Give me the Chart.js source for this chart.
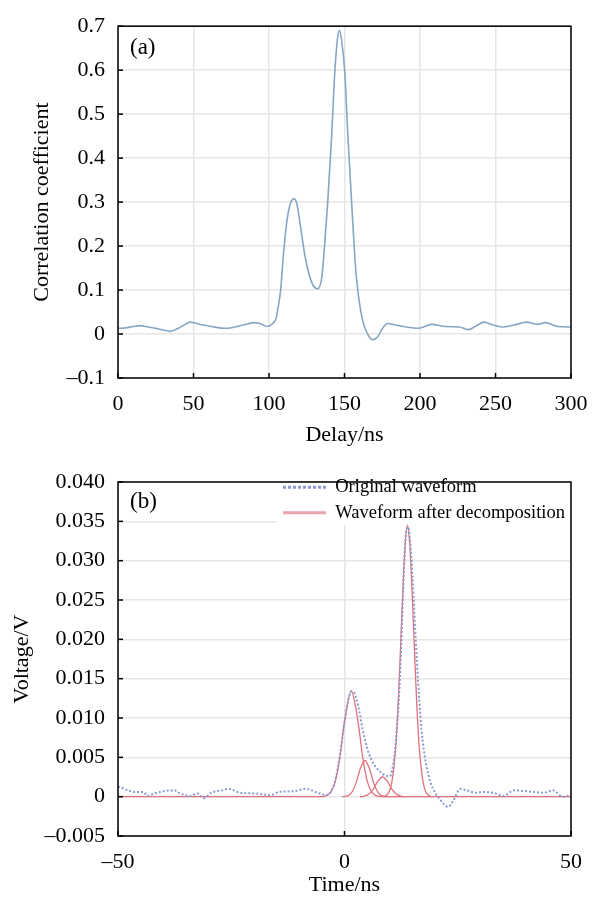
<!DOCTYPE html>
<html><head><meta charset="utf-8">
<script src="https://cdn.jsdelivr.net/npm/chart.js@4/dist/chart.umd.min.js"></script>
<style>
html,body{margin:0;padding:0;background:#fff;}
#w1{position:absolute;left:0;top:0;width:607px;height:450px;}
#w2{position:absolute;left:0;top:450px;width:607px;height:448px;}
</style></head><body>
<div id="w1"><canvas id="c1" width="607" height="450"></canvas></div>
<div id="w2"><canvas id="c2" width="607" height="448"></canvas></div>
<script>
// ---- Panel (a): correlation coefficient vs delay ----
const delayNs = [0,5,10,14.6,20,24.8,30,34.3,40,44,47.9,51,55.5,62,71,76,81,86,90,94,99,103,104.6,106,107.7,109.5,111.7,114,116.6,118.5,120.5,123.8,128.2,132.2,135,137,138.9,141.5,143.3,145.3,146.6,148,150.3,152.1,154.7,157.6,161.4,165,168.7,172,175,178.4,184.6,191,199,208,217,226,232,237,242.4,248,254,263,270.6,278,283,291,300];
const corrCoef = [0.013,0.014,0.017,0.019,0.016,0.013,0.009,0.006,0.013,0.021,0.027,0.025,0.021,0.017,0.013,0.015,0.019,0.023,0.026,0.024,0.017,0.026,0.035,0.06,0.10,0.178,0.253,0.295,0.308,0.295,0.253,0.178,0.118,0.103,0.13,0.21,0.30,0.45,0.58,0.67,0.69,0.67,0.59,0.46,0.30,0.14,0.04,0.002,-0.013,-0.006,0.012,0.024,0.02,0.016,0.013,0.022,0.017,0.016,0.010,0.018,0.027,0.021,0.016,0.021,0.027,0.022,0.026,0.017,0.016];
const delayTicks = [0,50,100,150,200,250,300];
const corrTicks = [-0.1,0,0.1,0.2,0.3,0.4,0.5,0.6,0.7];

// ---- Panel (b): original waveform and decomposition ----
const timeOrig = [-50,-49,-47.8,-46,-44.4,-43.5,-42,-40,-37.5,-36.3,-34,-32.4,-31.1,-29.4,-27,-25.6,-23,-19.6,-16.2,-14.5,-11.1,-8.5,-6,-4,-3,-2,-1,0,1,1.5,2,3,4,5,6,7,8,9,10,11,12,12.5,13,13.5,14,14.5,15,16,17,18,19,20,21,22.9,24,25.6,27,29,31,33.3,35,37.5,40,41.8,44,46,48.2,50];
const voltOrig = [0.0013,0.0011,0.0008,0.0006,0.0006,0.0001,0.0004,0.0007,0.0008,0.0004,0.0001,0.0004,-0.0002,0.0005,0.0008,0.001,0.0005,0.0004,0.0002,0.0006,0.0007,0.001,0.0005,0.0002,0.0006,0.0022,0.0053,0.0095,0.0127,0.0134,0.0133,0.0116,0.0086,0.0062,0.0046,0.0037,0.0031,0.0027,0.0026,0.0052,0.0125,0.019,0.027,0.033,0.0343,0.0325,0.028,0.017,0.0085,0.0042,0.0018,0.0005,-0.0003,-0.0013,-0.0005,0.001,0.0008,0.0005,0.0006,0.0004,0.0001,0.0008,0.0007,0.0006,0.0005,0.0008,0.0000,0.0002];
const timeComp1 = [-50,-5,-4,-3,-2,-1,0,1.5,3,4,5,6,7,8,50];
const voltComp1 = [0,0,0.00013,0.0006,0.002,0.0051,0.0095,0.0134,0.0095,0.0051,0.002,0.0006,0.00013,0,0];
const timeComp2 = [-0.5,0.5,1.5,2.5,3.5,4.5,5.5,6.5,7.5,8.5,9.5];
const voltComp2 = [0,0.00008,0.00046,0.00166,0.00357,0.0046,0.00357,0.00166,0.00046,0.00008,0];
const timeComp3 = [3.4,4.4,5.4,6.4,7.4,8.4,9.4,10.4,11.4,12.4,13.4];
const voltComp3 = [0,0.00007,0.00034,0.001,0.002,0.0025,0.002,0.001,0.00034,0.00007,0];
const timeComp4 = [8.4,8.9,9.4,9.9,10.4,10.9,11.4,11.9,12.4,12.9,13.4,13.9,14.4,14.9,15.4,15.9,16.4,16.9,17.4,17.9,18.4,18.9,19.4];
const voltComp4 = [0,0.00007,0.00025,0.0007,0.0017,0.0037,0.0071,0.0124,0.0193,0.0264,0.0321,0.0345,0.0321,0.0264,0.0193,0.0124,0.0071,0.0037,0.0017,0.0007,0.00025,0.00007,0];
const timeTicks = [-50,0,50];
const voltTicks = [-0.005,0,0.005,0.010,0.015,0.020,0.025,0.030,0.035,0.040];
const seriesNames = ['Original waveform','Waveform after decomposition'];

const FONT = '"Liberation Serif", "Times New Roman", serif';
const tickFont = {family: FONT, size: 22};
const titleFont = {family: FONT, size: 22};
const gridColor = '#e6e6e6';
const pts = (xs, ys) => xs.map((x, i) => ({x: x, y: ys[i]}));
const fmt = (v, d) => Math.abs(v) < 1e-12 ? '0' : (v < 0 ? '\u2013' : '') + Math.abs(v).toFixed(d);

const frame = {
  id: 'frame',
  beforeDatasetsDraw(chart, args, opts) {
    if (opts.legendBg && chart.legend) {
      const a = chart.chartArea, lg = chart.legend, ctx = chart.ctx;
      ctx.save();
      ctx.fillStyle = '#fff';
      ctx.fillRect(lg.left, a.top + 1, a.right - 1 - lg.left, opts.legendBg - a.top);
      ctx.restore();
      lg.draw();
    }
  },
  afterDatasetsDraw(chart, args, opts) {
    const {ctx, chartArea: a, scales} = chart;
    ctx.save();
    ctx.strokeStyle = '#000';
    ctx.lineWidth = 1.5;
    ctx.strokeRect(a.left, a.top, a.right - a.left, a.bottom - a.top);
    scales.x.ticks.forEach(t => {
      const x = scales.x.getPixelForValue(t.value);
      ctx.beginPath(); ctx.moveTo(x, a.bottom); ctx.lineTo(x, a.bottom - 5); ctx.stroke();
    });
    scales.y.ticks.forEach(t => {
      const y = scales.y.getPixelForValue(t.value);
      ctx.beginPath(); ctx.moveTo(a.left, y); ctx.lineTo(a.left + 5, y); ctx.stroke();
    });
    ctx.fillStyle = '#000';
    ctx.font = '23px ' + FONT;
    ctx.textAlign = 'left';
    ctx.textBaseline = 'middle';
    ctx.fillText(opts.label, a.left + 12, a.top + opts.labelDy);
    ctx.restore();
  },
  afterLayout(chart, args, opts) {
    if (opts.legendPos && chart.legend) {
      const lg = chart.legend, p = opts.legendPos;
      lg.left = p.left; lg.right = chart.chartArea.right; lg.width = lg.right - lg.left;
      lg.top = p.top; lg.bottom = p.top + 70; lg.height = 70;
    }
  }
};

function axis(opts) {
  return {
    type: 'linear', min: opts.min, max: opts.max,
    afterBuildTicks: s => { s.ticks = opts.ticks.map(v => ({value: v})); },
    afterFit: opts.fit,
    grid: {color: gridColor, lineWidth: 1.5, drawTicks: false},
    border: {display: false},
    ticks: {autoSkip: false, maxRotation: 0, padding: opts.pad, color: '#000', font: tickFont, callback: v => fmt(v, opts.dec)},
    title: {display: true, text: opts.title, color: '#000', font: titleFont, padding: opts.tpad}
  };
}

new Chart(document.getElementById('c1'), {
  type: 'line',
  data: {datasets: [{
    label: 'Correlation coefficient',
    data: pts(delayNs, corrCoef),
    borderColor: '#86a6c4', borderWidth: 1.6, pointRadius: 0,
    cubicInterpolationMode: 'monotone', fill: false
  }]},
  options: {
    responsive: false, animation: false, events: [],
    layout: {padding: {left: 0, right: 36, top: 20, bottom: 0}},
    plugins: {legend: {display: false}, tooltip: {enabled: false}, frame: {label: '(a)', labelDy: 22}},
    scales: {
      x: axis({min: 0, max: 300, ticks: delayTicks, dec: 0, pad: 13, title: 'Delay/ns', tpad: {top: 0, bottom: 2}, fit: s => { s.height = 72; }}),
      y: axis({min: -0.1, max: 0.7, ticks: corrTicks, dec: 1, pad: 13, title: 'Correlation coefficient', tpad: {top: 29, bottom: 0}, fit: s => { s.width = 118; }})
    }
  },
  plugins: [frame]
});

const redLine = '#e0727d';
const legendStroke = ['#8c9ad0', '#eba5ab'];
const legendDash = [[3, 2], []];
new Chart(document.getElementById('c2'), {
  type: 'line',
  data: {datasets: [
    {label: seriesNames[0], data: pts(timeOrig, voltOrig), borderColor: '#8c9ad0', borderWidth: 2, borderDash: [2, 2], pointRadius: 0, cubicInterpolationMode: 'monotone', fill: false},
    {label: seriesNames[1], data: pts(timeComp1, voltComp1), borderColor: redLine, borderWidth: 1.3, pointRadius: 0, cubicInterpolationMode: 'monotone', fill: false},
    {label: '', data: pts(timeComp2, voltComp2), borderColor: redLine, borderWidth: 1.3, pointRadius: 0, cubicInterpolationMode: 'monotone', fill: false},
    {label: '', data: pts(timeComp3, voltComp3), borderColor: redLine, borderWidth: 1.3, pointRadius: 0, cubicInterpolationMode: 'monotone', fill: false},
    {label: '', data: pts(timeComp4, voltComp4), borderColor: redLine, borderWidth: 1.3, pointRadius: 0, cubicInterpolationMode: 'monotone', fill: false}
  ]},
  options: {
    responsive: false, animation: false, events: [],
    layout: {padding: {left: 0, right: 36, top: 32, bottom: 0}},
    plugins: {
      tooltip: {enabled: false},
      frame: {label: '(b)', labelDy: 20, legendBg: 74, legendPos: {left: 276, top: 21}},
      legend: {
        position: 'chartArea', align: 'start',
        labels: {
          usePointStyle: true, pointStyle: 'line', pointStyleWidth: 43, boxHeight: 10,
          padding: 7, color: '#000', font: {family: FONT, size: 18.5},
          generateLabels(chart) {
            const items = Chart.defaults.plugins.legend.labels.generateLabels(chart);
            return items.filter(it => it.datasetIndex <= 1).map(it => {
              it.lineWidth = 3;
              it.strokeStyle = legendStroke[it.datasetIndex];
              it.lineDash = legendDash[it.datasetIndex];
              it.pointStyle = 'line';
              return it;
            });
          }
        }
      }
    },
    scales: {
      x: axis({min: -50, max: 50, ticks: timeTicks, dec: 0, pad: 13, title: 'Time/ns', tpad: {top: 0, bottom: 0}, fit: s => { s.height = 62; }}),
      y: axis({min: -0.005, max: 0.04, ticks: voltTicks, dec: 3, pad: 13, title: 'Voltage/V', tpad: {top: 9, bottom: 0}, fit: s => { s.width = 118; }})
    }
  },
  plugins: [frame]
});
</script>
</body></html>
